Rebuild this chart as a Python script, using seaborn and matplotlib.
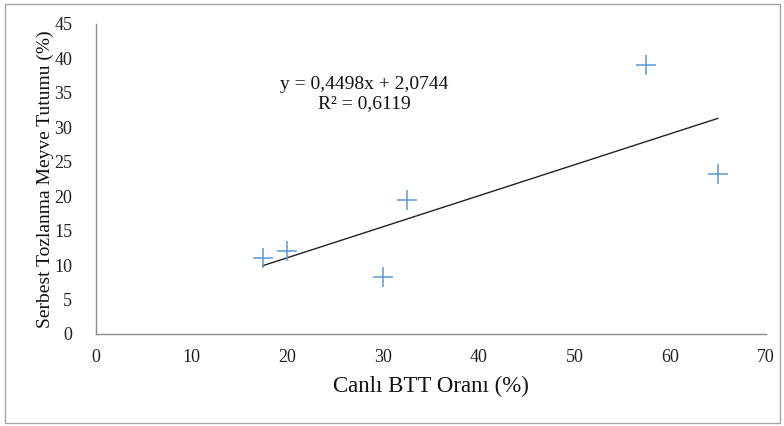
import numpy as np
import pandas as pd
import matplotlib.pyplot as plt
from matplotlib.patches import Rectangle
import seaborn as sns

sns.set_style("white")
plt.rcParams['font.family'] = ['Liberation Serif', 'DejaVu Serif']

# Data
canli_btt = [17.4, 20.0, 30.0, 32.5, 57.5, 65.0]
meyve_tutumu = [11.0, 12.0, 8.3, 19.5, 39.0, 23.2]

# Trendline coefficients shown on the chart
slope = 0.4498
intercept = 2.0744
r2 = 0.6119

x_ticks = [0, 10, 20, 30, 40, 50, 60, 70]
y_ticks = [0, 5, 10, 15, 20, 25, 30, 35, 40, 45]

df = pd.DataFrame({'x': canli_btt, 'y': meyve_tutumu})

fig = plt.figure(figsize=(7.84, 4.26), dpi=100)
ax = fig.add_axes([0.1224, 0.216, 0.8546, 0.7277])

sns.scatterplot(data=df, x='x', y='y', marker='+', s=200, color='#5B9BD5',
                linewidth=1.1, ax=ax, zorder=3)

# linear trendline over the data range
tx = np.array([min(canli_btt), max(canli_btt)])
trend = pd.DataFrame({'x': tx, 'y': slope * tx + intercept})
sns.lineplot(data=trend, x='x', y='y', color='#222222', linewidth=1.0, ax=ax, zorder=2)

ax.set_xlim(0, 70)
ax.set_ylim(0, 45)
ax.set_xticks(x_ticks)
ax.set_yticks(y_ticks)
ax.tick_params(axis='both', length=0, labelsize=13, colors='#222222')
ax.tick_params(axis='x', pad=11)
ax.tick_params(axis='y', pad=17)

for s in ['top', 'right']:
    ax.spines[s].set_visible(False)
for s in ['left', 'bottom']:
    ax.spines[s].set_color('#8c8c8c')
    ax.spines[s].set_linewidth(1.0)

ax.set_xlabel('Canlı BTT Oranı (%)', fontsize=16.5, labelpad=7, color='#111111')
ax.set_ylabel('Serbest Tozlanma Meyve Tutumu (%)', fontsize=14, labelpad=0, color='#111111')

eq = f"y = {slope:.4f}x + {intercept:.4f}".replace('.', ',')
r2_text = f"R² = {r2:.4f}".replace('.', ',')
ax.text(0.40, 0.775, eq + '\n' + r2_text, transform=ax.transAxes, ha='center',
        va='center', fontsize=14, linespacing=1.15, color='#111111')

# outer chart border
fig.patches.append(Rectangle((0.006, 0.008), 0.989, 0.982, transform=fig.transFigure,
                             fill=False, edgecolor='#a6a6a6', linewidth=1.0))

plt.savefig('out.png', dpi=100)
